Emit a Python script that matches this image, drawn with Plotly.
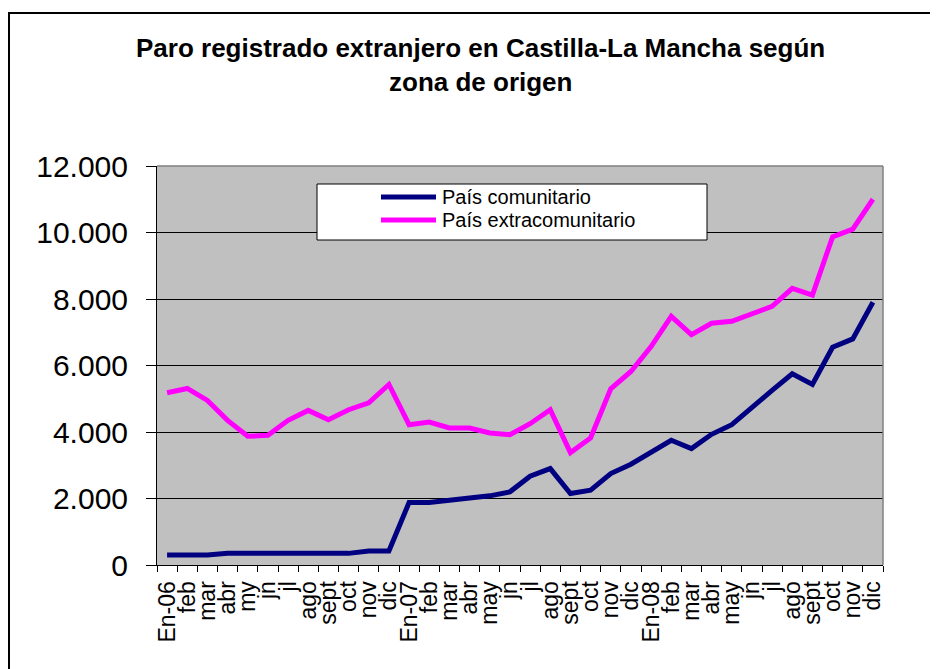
import plotly.graph_objects as go

months = ["En-06", "feb", "mar", "abr", "my", "jn", "jl", "ago", "sept", "oct", "nov", "dic",
          "En-07", "feb", "mar", "abr", "may", "jn", "jl", "ago", "sept", "oct", "nov", "dic",
          "En-08", "feb", "mar", "abr", "may", "jn", "jl", "ago", "sept", "oct", "nov", "dic"]

comunitario = [300, 300, 300, 350, 350, 350, 350, 350, 350, 350, 420, 420,
               1880, 1880, 1950, 2000, 2080, 2200, 2670, 2900, 2150, 2250, 2750, 3030,
               3400, 3750, 3500, 3930, 4220, 4750, 5250, 5750, 5430, 6550, 6800, 7900]

extracomunitario = [5180, 5310, 4950, 4350, 3870, 3900, 4350, 4650, 4370, 4670, 4880, 5430,
                    4220, 4300, 4120, 4120, 3970, 3920, 4250, 4670, 3380, 3820, 5300, 5820,
                    6570, 7480, 6930, 7270, 7330, 7570, 7780, 8320, 8120, 9870, 10100, 11000]

series_names = ["País comunitario", "País extracomunitario"]
series_colors = ["#000080", "#FF00FF"]

title_lines = ["Paro registrado extranjero en Castilla-La Mancha según", "zona de origen"]

# the page body has an 8px margin; positions below are in screen pixels
OFF = 8
W, H = 938 - OFF, 669 - OFF
ML, MR, MT, MB = 157 - OFF, 55, 166 - OFF, 104
PW, PH = W - ML - MR, H - MT - MB

def px_x(p):
    return (p - OFF - ML) / PW

def px_y(p):
    return (H - MB - (p - OFF)) / PH

x = list(range(len(months)))
font = "Liberation Sans, Arial, sans-serif"

fig = go.Figure()
for name, vals, col in zip(series_names, [comunitario, extracomunitario], series_colors):
    fig.add_trace(go.Scatter(x=x, y=vals, mode="lines", name=name,
                             line=dict(color=col, width=5), showlegend=False))

shapes = []
# page border
shapes.append(dict(type="rect", xref="paper", yref="paper",
                   x0=px_x(9), x1=px_x(980), y0=px_y(720), y1=px_y(13),
                   line=dict(color="black", width=2), fillcolor="rgba(0,0,0,0)", layer="below"))
# plot area top and right border
shapes.append(dict(type="line", xref="paper", yref="paper", x0=0, x1=1, y0=1, y1=1,
                   line=dict(color="#808080", width=1.5)))
shapes.append(dict(type="line", xref="paper", yref="paper", x0=1, x1=1, y0=0, y1=1,
                   line=dict(color="#808080", width=1.5)))
# legend box
shapes.append(dict(type="rect", xref="paper", yref="paper",
                   x0=px_x(317), x1=px_x(707), y0=px_y(240), y1=px_y(184),
                   line=dict(color="black", width=1), fillcolor="white", layer="above"))
annotations = []
legend_rows = [197, 220]
for name, col, ry in zip(series_names, series_colors, legend_rows):
    shapes.append(dict(type="line", xref="paper", yref="paper",
                       x0=px_x(381), x1=px_x(436), y0=px_y(ry), y1=px_y(ry),
                       line=dict(color=col, width=5), layer="above"))
    annotations.append(dict(xref="paper", yref="paper", x=px_x(440), y=px_y(ry),
                            xanchor="left", yanchor="middle", showarrow=False,
                            text=name, font=dict(family=font, size=20, color="black")))

for t, ty in zip(title_lines, [48, 82]):
    annotations.append(dict(xref="paper", yref="paper", x=px_x(480), y=px_y(ty),
                            xanchor="center", yanchor="middle", showarrow=False,
                            text="<b>" + t + "</b>",
                            font=dict(family=font, size=26, color="black")))

fig.update_layout(
    width=W, height=H,
    margin=dict(l=ML, r=MR, t=MT, b=MB),
    paper_bgcolor="white", plot_bgcolor="#C0C0C0",
    separators=",.",
    showlegend=False,
    shapes=shapes, annotations=annotations,
    xaxis=dict(range=[-0.5, len(months) - 0.5], tickmode="array", tickvals=x, ticktext=months,
               tickangle=-90, ticks="", showgrid=False, zeroline=False,
               showline=True, linecolor="black", linewidth=1,
               tickfont=dict(family=font, size=23, color="black"),
               minor=dict(tickmode="array", tickvals=[i - 0.5 for i in range(len(months) + 1)],
                          ticks="outside", ticklen=6, tickcolor="black", showgrid=False),
               ticklabelstandoff=6, fixedrange=True),
    yaxis=dict(range=[0, 12000], dtick=2000, tickformat=",d", ticks="outside", ticklen=10,
               tickcolor="black", showgrid=True, gridcolor="black", gridwidth=1,
               zeroline=False, showline=True, linecolor="black", linewidth=1,
               tickfont=dict(family=font, size=30, color="black"),
               ticklabelstandoff=12, fixedrange=True),
)

fig.write_html("out.html")
